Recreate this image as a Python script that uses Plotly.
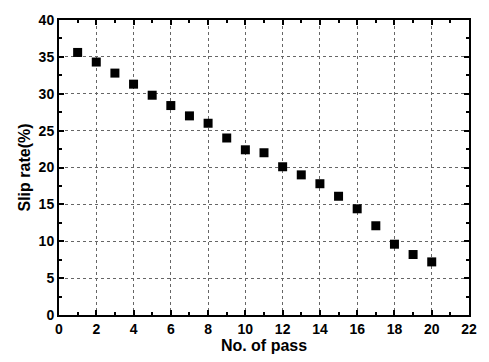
import plotly.graph_objects as go

passes = list(range(1, 21))
slip_rate = [35.6, 34.3, 32.8, 31.3, 29.8, 28.4, 27.0, 26.0, 24.0, 22.4,
             22.0, 20.1, 19.0, 17.8, 16.1, 14.4, 12.1, 9.6, 8.2, 7.2]
x_ticks = list(range(0, 23, 2))
y_ticks = list(range(0, 41, 5))

fig = go.Figure()
fig.add_trace(go.Scatter(
    x=passes, y=slip_rate, mode="markers",
    marker=dict(symbol="square", size=9, color="black"),
    showlegend=False,
))

fam = "Liberation Sans, Arial, sans-serif"
axis_common = dict(
    showline=True, linecolor="black", linewidth=2, mirror="allticks",
    ticks="inside", ticklen=5, tickwidth=2, tickcolor="black",
    showgrid=True, gridcolor="#666", griddash="dot", gridwidth=1,
    zeroline=False,
    tickfont=dict(size=14, family=fam, color="black"),
)
fig.update_xaxes(range=[0, 22], tickvals=x_ticks, ticktext=[f"<b>{v}</b>" for v in x_ticks],
                 minor=dict(ticks="inside", ticklen=3, tickwidth=2, tickcolor="black", dtick=1, showgrid=False),
                 title=dict(text="<b>No. of pass</b>", font=dict(size=16, family=fam, color="black"), standoff=2),
                 **axis_common)
fig.update_yaxes(range=[0, 40], tickvals=y_ticks, ticktext=[f"<b>{v}</b>" for v in y_ticks],
                 minor=dict(ticks="inside", ticklen=3, tickwidth=2, tickcolor="black", dtick=2.5, showgrid=False),
                 title=dict(text="<b>Slip rate(%)</b>", font=dict(size=16, family=fam, color="black"), standoff=4),
                 **axis_common)
fig.update_layout(
    width=489, height=362,
    margin=dict(l=59, r=18, t=14, b=46),
    plot_bgcolor="white", paper_bgcolor="white",
)
fig.write_html("out.html")
